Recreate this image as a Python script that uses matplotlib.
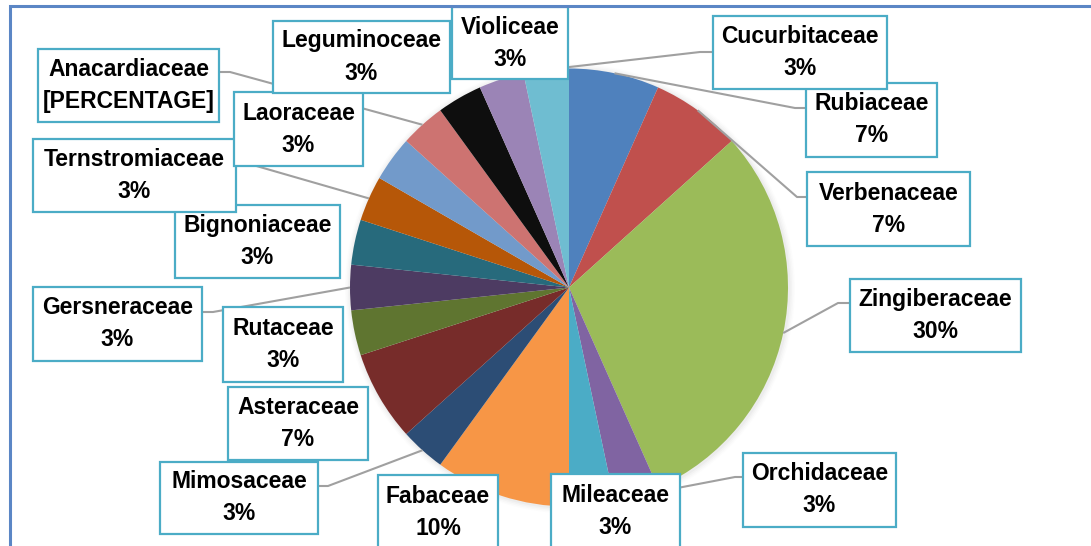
import matplotlib.pyplot as plt
from matplotlib.patches import Rectangle, Circle
import numpy as np

# families in clockwise order from 12 o'clock, counts of species (total 30)
families = ["Rubiaceae", "Verbenaceae", "Zingiberaceae", "Orchidaceae", "Mileaceae",
            "Fabaceae", "Mimosaceae", "Asteraceae", "Rutaceae", "Gersneraceae",
            "Bignoniaceae", "Ternstromiaceae", "Laoraceae", "Anacardiaceae",
            "Leguminoceae", "Violiceae", "Cucurbitaceae"]
counts = [2, 2, 9, 1, 1, 3, 1, 2, 1, 1, 1, 1, 1, 1, 1, 1, 1]
# one label in the original still shows the Excel placeholder
label_override = {"Anacardiaceae": "[PERCENTAGE]"}

colors = ["#4F81BD", "#C0504D", "#9BBB59", "#8064A2", "#4BACC6", "#F79646",
          "#2C4D75", "#772C2A", "#5F7530", "#4D3B62", "#276A7C", "#B65708",
          "#729ACA", "#CD7371", "#0E0E0E", "#9B84B6", "#6FBDD1"]

W, H = 1091, 546
CX, CY, R = 569, 287.5, 219

# label boxes (left, top, right, bottom) in pixels from top-left
boxes = {
    "Rubiaceae": (806, 83, 937, 157),
    "Verbenaceae": (807, 172, 970, 246),
    "Zingiberaceae": (850, 279, 1021, 352),
    "Orchidaceae": (743, 453, 896, 527),
    "Mileaceae": (551, 474, 680, 550),
    "Fabaceae": (378, 475, 498, 550),
    "Mimosaceae": (160, 462, 318, 534),
    "Asteraceae": (228, 387, 368, 460),
    "Rutaceae": (223, 307, 343, 382),
    "Gersneraceae": (33, 287, 202, 361),
    "Bignoniaceae": (175, 205, 340, 278),
    "Ternstromiaceae": (33, 139, 236, 212),
    "Laoraceae": (234, 92, 363, 166),
    "Anacardiaceae": (38, 49, 219, 122),
    "Leguminoceae": (273, 21, 450, 93),
    "Violiceae": (452, 7, 568, 79),
    "Cucurbitaceae": (713, 16, 887, 89),
}
# leader attach point on box and elbow offset
leaders = {
    "Cucurbitaceae": (713, 52, -13),
    "Rubiaceae": (806, 108, -11),
    "Verbenaceae": (807, 197, -10),
    "Zingiberaceae": (850, 303, -12),
    "Orchidaceae": (743, 477, -8),
    "Mimosaceae": (318, 486, 10),
    "Gersneraceae": (202, 312, 11),
    "Ternstromiaceae": (236, 163, 10),
    "Anacardiaceae": (219, 72, 11),
}

fig = plt.figure(figsize=(W / 100, H / 100), dpi=100)
ax = fig.add_axes([0, 0, 1, 1])

# soft shadow around the pie
for i, a in enumerate([0.05, 0.04, 0.03, 0.02]):
    ax.add_patch(Circle((CX + 1, H - CY - 1), R + 1.5 + i * 1.5, color="#808080",
                        alpha=a, lw=0, zorder=0))

wedges, _ = ax.pie(counts, colors=colors, startangle=90, counterclock=False,
                   center=(CX, H - CY), radius=R, frame=False,
                   wedgeprops=dict(linewidth=0, zorder=1))

ax.set_xlim(0, W)
ax.set_ylim(0, H)
ax.set_aspect("auto")
ax.axis("off")

total = sum(counts)
font = ["Liberation Sans", "DejaVu Sans"]

for i, (name, w) in enumerate(zip(families, wedges)):
    pct = label_override.get(name, f"{round(100 * counts[i] / total)}%")
    l, t, r, b = boxes[name]
    z = 10 + i
    if name in leaders:
        axp, ayp, dx = leaders[name]
        mid = np.deg2rad((w.theta1 + w.theta2) / 2)
        ex = CX + R * np.cos(mid)
        ey = (H - CY) + R * np.sin(mid)
        ax.plot([ex, axp + dx, axp], [ey, H - ayp, H - ayp], color="#A0A0A0",
                lw=1.5, zorder=5, solid_capstyle="butt")
    ax.add_patch(Rectangle((l, H - b), r - l, b - t, facecolor="white",
                           edgecolor="#4BACC6", lw=1.6, zorder=z))
    ax.text((l + r) / 2, H - (t + b) / 2, f"{name}\n{pct}", ha="center", va="center",
            fontsize=16.5, fontweight="bold", family=font, linespacing=1.5, zorder=z + 0.5)

# chart frame (only top and left edges visible in the crop)
ax.plot([10, 10, W], [0, H - 6, H - 6], color="#5B86C5", lw=2.2, zorder=40,
        solid_joinstyle="miter")

fig.savefig("out.png", dpi=100)
